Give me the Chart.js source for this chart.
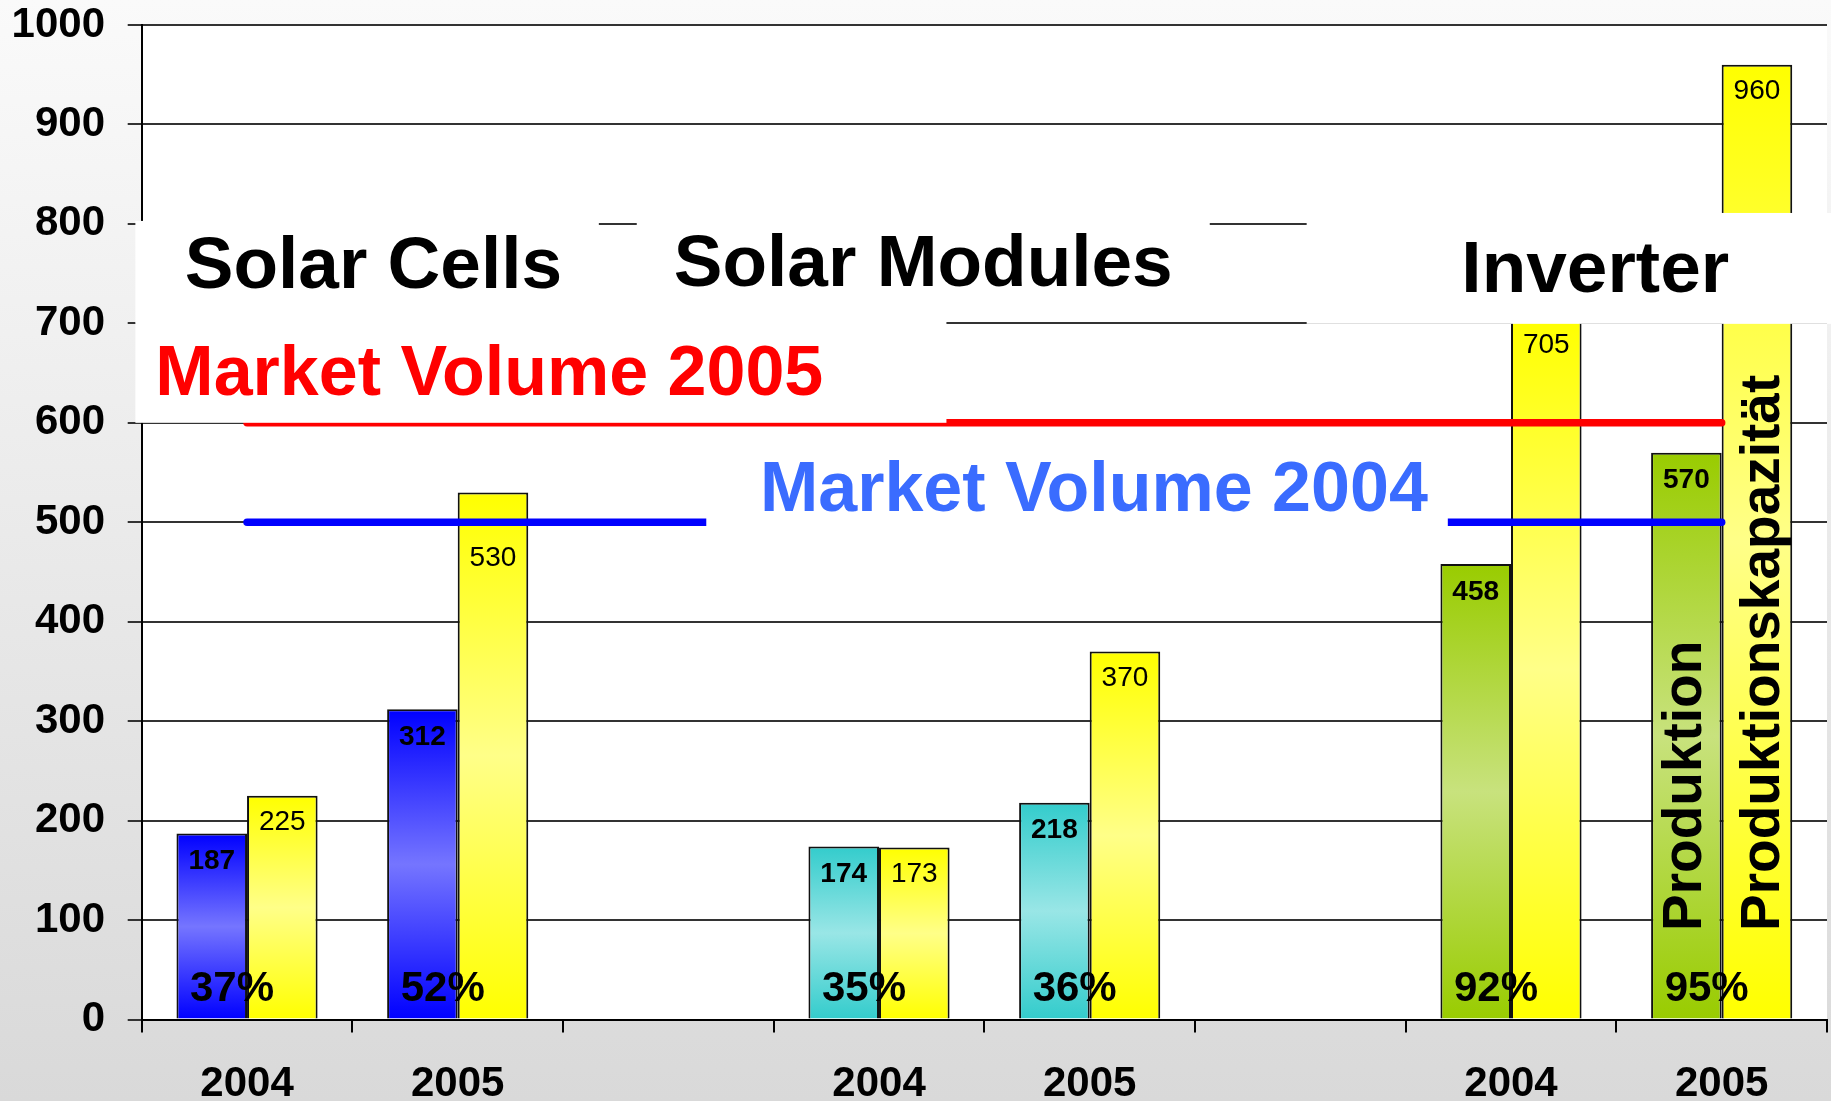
<!DOCTYPE html>
<html>
<head>
<meta charset="utf-8">
<title>Produktion und Produktionskapazität 2004 / 2005</title>
<script src="https://cdn.jsdelivr.net/npm/chart.js@4/dist/chart.umd.min.js"></script>
<style>
  html, body { margin: 0; padding: 0; background: #fff; }
  #wrap { width: 1831px; height: 1101px; }
</style>
</head>
<body>
<div id="wrap"><canvas id="chart" width="1831" height="1101"></canvas></div>
<script>
// --- data ---
const years = ['2004', '2005', '', '2004', '2005', '', '2004', '2005'];
const production = [187, 312, null, 174, 218, null, 458, 570];
const capacity = [225, 530, null, 173, 370, null, 705, 960];
const shares = [37, 52, null, 35, 36, null, 92, 95];
const groupNames = ['Solar Cells', 'Solar Modules', 'Inverter'];
const marketVolume2005 = [600, 600, 600, 600, 600, 600, 600, 600];
const marketVolume2004 = [500, 500, 500, 500, 500, 500, 500, 500];
const yMax = 1000;
const yStep = 100;

const FONT = '"Liberation Sans", Arial, Helvetica, sans-serif';

// gradient colours: [edge, middle]
const prodColors = [['#0000ff', '#7575ff'], ['#33cccc', '#99e6e6'], ['#99cc00', '#c8e27d']];
const capColors = ['#ffff00', '#ffff88'];

// white label boxes, x in category units, y in axis values
const boxes = [
    { x0: -0.53, x1: 1.67, y0: 701, y1: 803 },
    { x0: 1.85, x1: 4.57, y0: 702, y1: 812 },
    { x0: 5.03, x1: 8.5, y0: 699.5, y1: 811 },
    { x0: -0.53, x1: 3.32, y0: 600, y1: 701.5 },
    { x0: 2.18, x1: 5.70, y0: 483, y1: 589 }
];
const titles = [
    { text: groupNames[0], x: 0.60, y: 756, size: 73, color: '#000' },
    { text: groupNames[1], x: 3.21, y: 758, size: 73, color: '#000' },
    { text: groupNames[2], x: 6.40, y: 752, size: 73, color: '#000' },
    { text: 'Market Volume 2005', x: 1.15, y: 647, size: 70, color: '#ff0000' },
    { text: 'Market Volume 2004', x: 4.02, y: 531, size: 70, color: '#3a6cff' }
];

function barGradient(getStops) {
    return function (c) {
        const chart = c.chart;
        const stops = getStops(c.dataIndex);
        if (!chart.chartArea || c.raw == null) return stops[0];
        const y = chart.scales.y;
        const top = y.getPixelForValue(c.raw);
        const base = y.getPixelForValue(0);
        const g = chart.ctx.createLinearGradient(0, top, 0, base);
        g.addColorStop(0, stops[0]);
        g.addColorStop(0.5, stops[1]);
        g.addColorStop(1, stops[0]);
        return g;
    };
}

const overlay = {
    id: 'overlay',
    beforeDraw(chart) {
        const { ctx, chartArea: a, width, height } = chart;
        ctx.save();
        const bg = ctx.createLinearGradient(0, 0, 0, height);
        bg.addColorStop(0, '#fafafa');
        bg.addColorStop(1, '#d9d9d9');
        ctx.fillStyle = bg;
        ctx.fillRect(0, 0, width, height);
        ctx.fillStyle = '#fff';
        ctx.fillRect(a.left, a.top, a.right - a.left, a.bottom - a.top);
        ctx.restore();
    },
    afterDatasetsDraw(chart) {
        const ctx = chart.ctx;
        const px = v => chart.scales.x.getPixelForValue(v);
        const py = v => chart.scales.y.getPixelForValue(v);
        const prodMeta = chart.getDatasetMeta(0);
        const capMeta = chart.getDatasetMeta(1);
        ctx.save();

        // boxes
        ctx.fillStyle = '#fff';
        boxes.forEach(b => {
            const l = px(b.x0), r = px(b.x1), t = py(b.y1), btm = py(b.y0);
            ctx.fillRect(l, t, r - l, btm - t);
        });

        // titles
        ctx.textAlign = 'center';
        ctx.textBaseline = 'middle';
        titles.forEach(t => {
            ctx.font = `bold ${t.size}px ${FONT}`;
            ctx.fillStyle = t.color;
            ctx.fillText(t.text, px(t.x), py(t.y));
        });

        // value labels
        ctx.fillStyle = '#000';
        ctx.font = `bold 28px ${FONT}`;
        production.forEach((v, i) => {
            if (v == null) return;
            const bar = prodMeta.data[i];
            ctx.fillText(String(v), bar.x, bar.y + 28);
        });
        ctx.font = `28px ${FONT}`;
        const lines = [marketVolume2005[0], marketVolume2004[0]];
        capacity.forEach((v, i) => {
            if (v == null) return;
            const bar = capMeta.data[i];
            let ly = bar.y + 27;
            lines.forEach(m => {
                const lp = py(m);
                if (Math.abs(ly - lp) < 20) ly = lp + 36;
            });
            ctx.fillText(String(v), bar.x, ly);
        });

        // share percentages
        ctx.font = `bold 42px ${FONT}`;
        ctx.textBaseline = 'alphabetic';
        shares.forEach((s, i) => {
            if (s == null) return;
            const mid = (prodMeta.data[i].x + capMeta.data[i].x) / 2;
            ctx.fillText(s + '%', mid - 15, py(0) - 19);
        });

        // vertical legend texts in the last pair of bars
        const last = production.length - 1;
        ctx.font = `bold 55px ${FONT}`;
        ctx.textAlign = 'left';
        ctx.textBaseline = 'middle';
        [[prodMeta, 'Produktion', -1], [capMeta, 'Produktionskapazität', 7]].forEach(([meta, text, dx]) => {
            const bar = meta.data[last];
            ctx.save();
            ctx.translate(bar.x + dx, py(89));
            ctx.rotate(-Math.PI / 2);
            ctx.fillText(text, 0, 0);
            ctx.restore();
        });
        ctx.restore();
    }
};

new Chart(document.getElementById('chart'), {
    type: 'bar',
    data: {
        labels: years,
        datasets: [
            {
                label: 'Produktion',
                data: production,
                order: 1,
                backgroundColor: barGradient(i => prodColors[Math.floor(i / 3)]),
                borderColor: '#111',
                borderWidth: 2,
                categoryPercentage: 0.67,
                barPercentage: 1.0
            },
            {
                label: 'Produktionskapazität',
                data: capacity,
                order: 1,
                backgroundColor: barGradient(() => capColors),
                borderColor: '#111',
                borderWidth: 2,
                categoryPercentage: 0.67,
                barPercentage: 1.0
            },
            {
                type: 'line',
                label: 'Market Volume 2005',
                data: marketVolume2005,
                order: 0,
                borderColor: '#ff0000',
                borderWidth: 7.5,
                borderCapStyle: 'round',
                pointRadius: 0,
                fill: false
            },
            {
                type: 'line',
                label: 'Market Volume 2004',
                data: marketVolume2004,
                order: 0,
                borderColor: '#0000ff',
                borderWidth: 7.5,
                borderCapStyle: 'round',
                pointRadius: 0,
                fill: false
            }
        ]
    },
    options: {
        responsive: false,
        animation: false,
        devicePixelRatio: 1,
        layout: { padding: { top: 25, right: 4, left: 0, bottom: 0 } },
        plugins: { legend: { display: false }, tooltip: { enabled: false } },
        scales: {
            x: {
                offset: true,
                grid: { offset: true, drawOnChartArea: false, drawTicks: true, tickLength: 13, color: '#000', lineWidth: 2 },
                border: { display: true, color: '#000', width: 2 },
                ticks: { color: '#000', font: { family: FONT, size: 42, weight: 'bold' }, padding: 27, maxRotation: 0, autoSkip: false },
                afterFit: s => { s.height = 81.5; }
            },
            y: {
                min: 0,
                max: yMax,
                ticks: {
                    stepSize: yStep,
                    color: '#000',
                    font: { family: FONT, size: 42, weight: 'bold' },
                    padding: 22.7,
                    callback: v => String(v)
                },
                grid: { color: '#333', lineWidth: 2, tickLength: 14 },
                border: { display: true, color: '#000', width: 2 },
                afterFit: s => {
                    s.width = 141.7;
                    s.paddingTop = 0;
                    s.paddingBottom = 0;
                }
            }
        }
    },
    plugins: [overlay]
});
</script>
</body>
</html>
